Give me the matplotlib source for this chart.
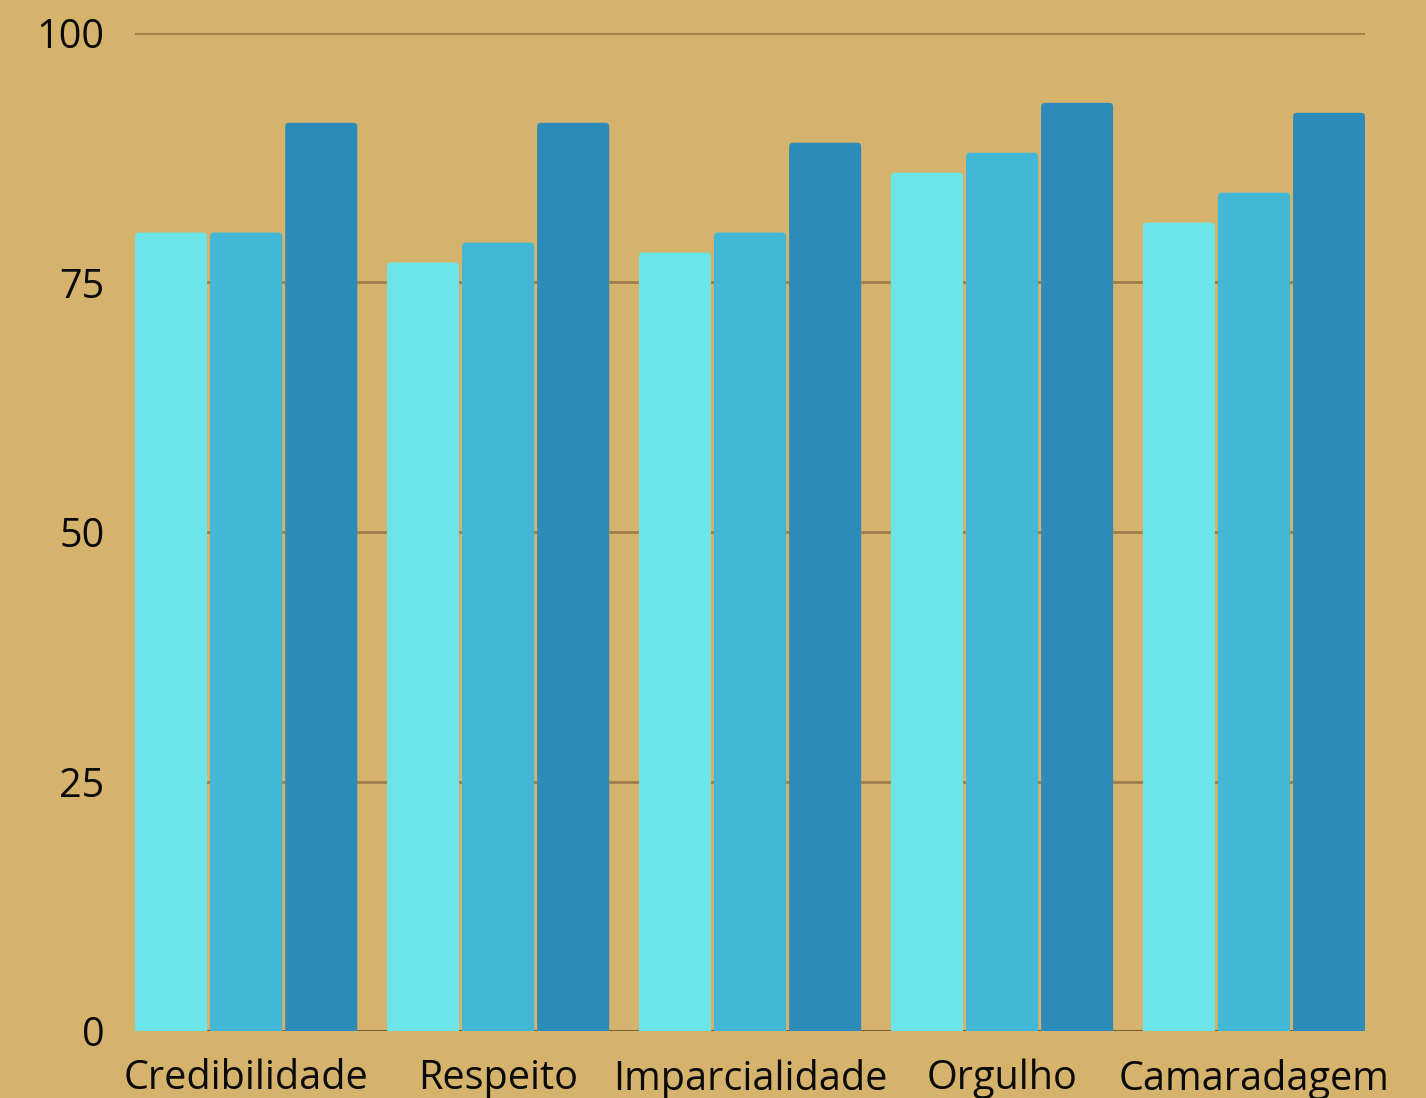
import matplotlib.pyplot as plt
from matplotlib.patches import FancyBboxPatch
import numpy as np

# data
categories = ['Credibilidade', 'Respeito', 'Imparcialidade', 'Orgulho', 'Camaradagem']
series_1 = [80, 77, 78, 86, 81]
series_2 = [80, 79, 80, 88, 84]
series_3 = [91, 91, 89, 93, 92]
colors = ['#6BE5E8', '#42B7D6', '#2D8BB9']
y_ticks = [0, 25, 50, 75, 100]

bg = '#D6B36C'
plt.rcParams['font.family'] = ['Open Sans', 'DejaVu Sans']

fig = plt.figure(figsize=(14.26, 10.98), dpi=100, facecolor=bg)
ax = fig.add_axes([0.0947, 0.061, 0.8626, 0.909])
ax.set_facecolor(bg)

# bar geometry in data units (group spacing = 1)
pitch = 0.298
width = 0.286
x = np.arange(len(categories))
ax.set_xlim(-0.441, len(categories) - 1 + 0.441)
ax.set_ylim(0, 100)

# pixels per data unit, used so the corner rounding stays round
px_x = 1230 / (ax.get_xlim()[1] - ax.get_xlim()[0])
px_y = 998 / 100
aspect = px_x / px_y
radius = 4 / px_x

for i, values in enumerate([series_1, series_2, series_3]):
    offset = (i - 1) * pitch
    for xi, v in zip(x, values):
        patch = FancyBboxPatch((xi + offset - width / 2, -5), width, v + 5,
                               boxstyle=f'round,pad=0,rounding_size={radius}',
                               mutation_aspect=aspect, facecolor=colors[i],
                               edgecolor='none', zorder=3)
        ax.add_patch(patch)

# grid lines behind the bars
for t in y_ticks[1:]:
    ax.axhline(t, color='#9E7E4C', linewidth=2, zorder=1)
ax.axhline(0, color='#6B5530', linewidth=2, zorder=1)

for side in ['top', 'right', 'left', 'bottom']:
    ax.spines[side].set_visible(False)

ax.set_yticks(y_ticks)
ax.set_yticklabels([str(t) for t in y_ticks])
ax.set_xticks(x)
ax.set_xticklabels(categories)
ax.tick_params(axis='both', length=0, labelsize=28.5, colors='#0A0A0A')
ax.tick_params(axis='y', pad=22)
ax.tick_params(axis='x', pad=20)

fig.savefig('out.png', dpi=100, facecolor=bg)
